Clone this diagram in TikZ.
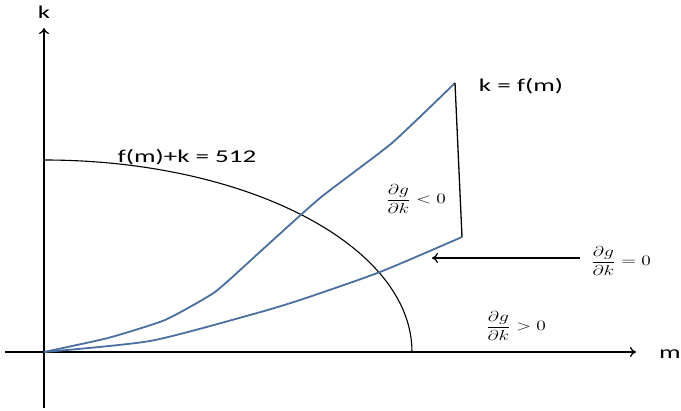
\documentclass[tikz,border=0pt]{standalone}
\usepackage{fontspec}
\setmainfont{Carlito}
\usetikzlibrary{arrows.meta}
\definecolor{curveblue}{RGB}{74,110,160}
\newcommand{\wtxt}[1]{\scalebox{1.5}[1]{#1}}
\newcommand{\wmath}[1]{\scalebox{1.35}[1]{$\displaystyle #1$}}
\begin{document}
\begin{tikzpicture}[x=1pt,y=-1pt,
  axis/.style={line width=1.3pt,-{To[length=6pt,width=10pt]}},
  curve/.style={curveblue,line width=1.8pt},
  lbl/.style={font=\fontsize{18}{20}\selectfont,inner sep=0pt},
  mlbl/.style={font=\fontsize{15}{17}\selectfont,inner sep=0pt}]
\useasboundingbox (0,0) rectangle (681,411);
\coordinate (O) at (44,352);
\coordinate (ybot) at (44,408);
\coordinate (ytop) at (44,28);
\coordinate (xl) at (5,352);
\coordinate (xr) at (636,352);
\draw[line width=1.3pt] (ybot) -- (O);
\draw[axis] (O) -- (ytop);
\draw[line width=1.3pt] (xl) -- (O);
\draw[axis] (O) -- (xr);
\node[lbl] (klab) at (44,12) {\wtxt{k}};
\node[lbl] (mlab) at (670,354) {\wtxt{m}};
% budget arc
\draw[line width=1.1pt] (44,160) arc[start angle=-90,end angle=0,x radius=368,y radius=192];
% curves
\coordinate (A) at (455,83);
\coordinate (B) at (462,237);
\draw[curve] plot[smooth,tension=0.3] coordinates {(44,352) (108,338) (165,320) (215,292) (262,250) (320,198) (392,143) (455,83)};
\draw[curve] plot[smooth,tension=0.4] coordinates {(44,352) (150,341) (250,315) (300,300) (380,272) (462,237)};
\draw[line width=1.3pt] (A) -- (B);
\coordinate (arrS) at (580,258);
\coordinate (arrE) at (432,258);
\draw[line width=1.3pt,-{To[length=6pt,width=10pt]}] (arrS) -- (arrE);
\node[lbl] (kfm) at (521,86) {\wtxt{k = f(m)}};
\node[lbl] (budget) at (187,157) {\wtxt{f(m)+k = 512}};
\node[mlbl] (neg) at (416,199) {\wmath{\frac{\partial g}{\partial k} < 0}};
\node[mlbl] (zero) at (621,261) {\wmath{\frac{\partial g}{\partial k} = 0}};
\node[mlbl] (pos) at (516,326) {\wmath{\frac{\partial g}{\partial k} > 0}};
\end{tikzpicture}
\end{document}
